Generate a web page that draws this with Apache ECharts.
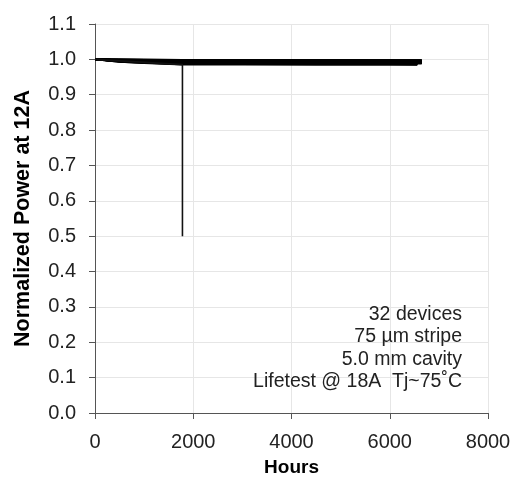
<!DOCTYPE html>
<html>
<head>
<meta charset="utf-8">
<script src="https://cdn.jsdelivr.net/npm/echarts@6/dist/echarts.min.js"></script>
<style>html,body{margin:0;padding:0;background:#fff}#c{width:514px;height:480px}</style>
</head>
<body>
<div id="c"></div>
<script>
// Shared time points (hours) for surviving devices
const hours = [0, 500, 1000, 1780, 3000, 4500, 6000, 6560, 6650];
// Normalized power for the 31 surviving devices (null = test ended earlier)
const devices = [
  [1.000,1.000,1.000,0.999,0.999,0.999,0.998,0.998,0.998],
  [1.000,1.000,0.999,0.999,0.998,0.998,0.998,0.998,0.998],
  [1.000,0.999,0.999,0.998,0.998,0.997,0.997,0.997,0.997],
  [1.000,0.999,0.998,0.997,0.997,0.997,0.996,0.996,0.996],
  [1.000,0.999,0.998,0.997,0.996,0.996,0.996,0.996,0.996],
  [1.000,0.998,0.997,0.996,0.996,0.995,0.995,0.995,0.995],
  [1.000,0.998,0.997,0.995,0.995,0.995,0.994,0.994,0.994],
  [1.000,0.998,0.996,0.995,0.994,0.994,0.994,0.993,0.993],
  [1.000,0.997,0.996,0.994,0.994,0.993,0.993,0.993,0.993],
  [1.000,0.997,0.995,0.993,0.993,0.993,0.992,0.992,0.992],
  [1.000,0.997,0.995,0.993,0.992,0.992,0.992,0.992,0.992],
  [1.000,0.996,0.994,0.992,0.992,0.991,0.991,0.991,0.991],
  [1.000,0.996,0.994,0.991,0.991,0.991,0.990,0.990,0.990],
  [1.000,0.996,0.993,0.991,0.990,0.990,0.990,0.990,0.990],
  [1.000,0.995,0.993,0.990,0.990,0.989,0.989,0.989,0.989],
  [1.000,0.995,0.992,0.989,0.989,0.989,0.988,0.988,0.988],
  [1.000,0.995,0.992,0.989,0.988,0.988,0.988,0.988,null],
  [1.000,0.994,0.991,0.988,0.988,0.987,0.987,0.987,null],
  [1.000,0.994,0.991,0.987,0.987,0.987,0.986,0.986,null],
  [1.000,0.994,0.990,0.987,0.986,0.986,0.986,0.986,null],
  [1.000,0.993,0.990,0.986,0.986,0.985,0.985,0.985,null],
  [1.000,0.993,0.989,0.985,0.985,0.985,0.985,0.984,null],
  [1.000,1.000,0.999,0.998,0.999,0.998,0.998,0.997,0.997],
  [1.000,0.999,0.999,0.997,0.997,0.996,0.996,0.996,0.996],
  [1.000,0.999,0.998,0.996,0.995,0.995,0.995,0.994,0.994],
  [1.000,0.998,0.996,0.994,0.993,0.993,0.992,0.992,0.992],
  [1.000,0.997,0.995,0.992,0.991,0.991,0.991,0.990,0.990],
  [1.000,0.996,0.993,0.990,0.989,0.990,0.989,0.989,0.989],
  [1.000,0.995,0.992,0.988,0.987,0.988,0.987,0.987,null],
  [1.000,0.998,0.997,0.996,0.997,0.996,0.995,0.996,0.996],
  [1.000,0.997,0.996,0.995,0.995,0.994,0.994,0.994,0.994]
];
// The one failed device
const failHours = [0, 1780, 1780];
const failValues = [1.000, 0.985, 0.500];

const xTicks = [0, 2000, 4000, 6000, 8000];
const yTicks = [0.0,0.1,0.2,0.3,0.4,0.5,0.6,0.7,0.8,0.9,1.0,1.1];
const noteLines = ['32 devices', '75 µm stripe', '5.0 mm cavity', 'Lifetest @ 18A  Tj~75˚C'];

const FONT = '"Liberation Sans", Arial, sans-serif';
const series = devices.map((vals, i) => ({
  type: 'line',
  name: 'D' + (i + 1),
  data: hours.map((h, j) => vals[j] == null ? null : [h, vals[j]]).filter(p => p),
  showSymbol: false,
  symbol: 'none',
  lineStyle: { color: '#000', width: 1.6 },
  silent: true,
  animation: false
}));
series.push({
  type: 'line',
  name: 'Failed',
  data: failHours.map((h, j) => [h, failValues[j]]),
  showSymbol: false,
  symbol: 'none',
  lineStyle: { color: '#111', width: 1.6 },
  silent: true,
  animation: false
});

const chart = echarts.init(document.getElementById('c'), null, { renderer: 'canvas' });
chart.setOption({
  animation: false,
  backgroundColor: '#fff',
  textStyle: { fontFamily: FONT },
  grid: { left: 95, right: 26, top: 24, bottom: 67, containLabel: false, outerBoundsMode: 'none' },
  xAxis: {
    type: 'value',
    min: xTicks[0], max: xTicks[xTicks.length - 1], interval: 2000,
    name: 'Hours', nameLocation: 'middle', nameGap: 45,
    nameTextStyle: { fontFamily: FONT, fontSize: 19, fontWeight: 'bold', color: '#000' },
    axisLine: { show: true, onZero: false, lineStyle: { color: '#555', width: 1 } },
    axisTick: { show: true, inside: false, length: 6, lineStyle: { color: '#555' } },
    axisLabel: { fontFamily: FONT, fontSize: 20, color: '#222', margin: 19,
      formatter: v => String(v) },
    splitLine: { show: true, lineStyle: { color: '#e6e6e6', width: 1 } }
  },
  yAxis: {
    type: 'value',
    min: yTicks[0], max: yTicks[yTicks.length - 1], interval: 0.1,
    name: 'Normalized Power at 12A', nameLocation: 'middle', nameGap: 61, nameRotate: 90,
    nameTextStyle: { fontFamily: FONT, fontSize: 21.5, fontWeight: 'bold', color: '#000' },
    axisLine: { show: true, lineStyle: { color: '#555', width: 1 } },
    axisTick: { show: true, inside: false, length: 6, lineStyle: { color: '#555' } },
    axisLabel: { fontFamily: FONT, fontSize: 20, color: '#222', margin: 19,
      formatter: v => v.toFixed(1) },
    splitLine: { show: true, lineStyle: { color: '#e6e6e6', width: 1 } }
  },
  graphic: [{
    type: 'text',
    right: 52, top: 303,
    z: 100,
    style: {
      text: noteLines.join('\n'),
      align: 'right',
      textAlign: 'right',
      font: '19.5px ' + FONT,
      fill: '#222',
      lineHeight: 22.5
    }
  }],
  series: series
});
</script>
</body>
</html>
